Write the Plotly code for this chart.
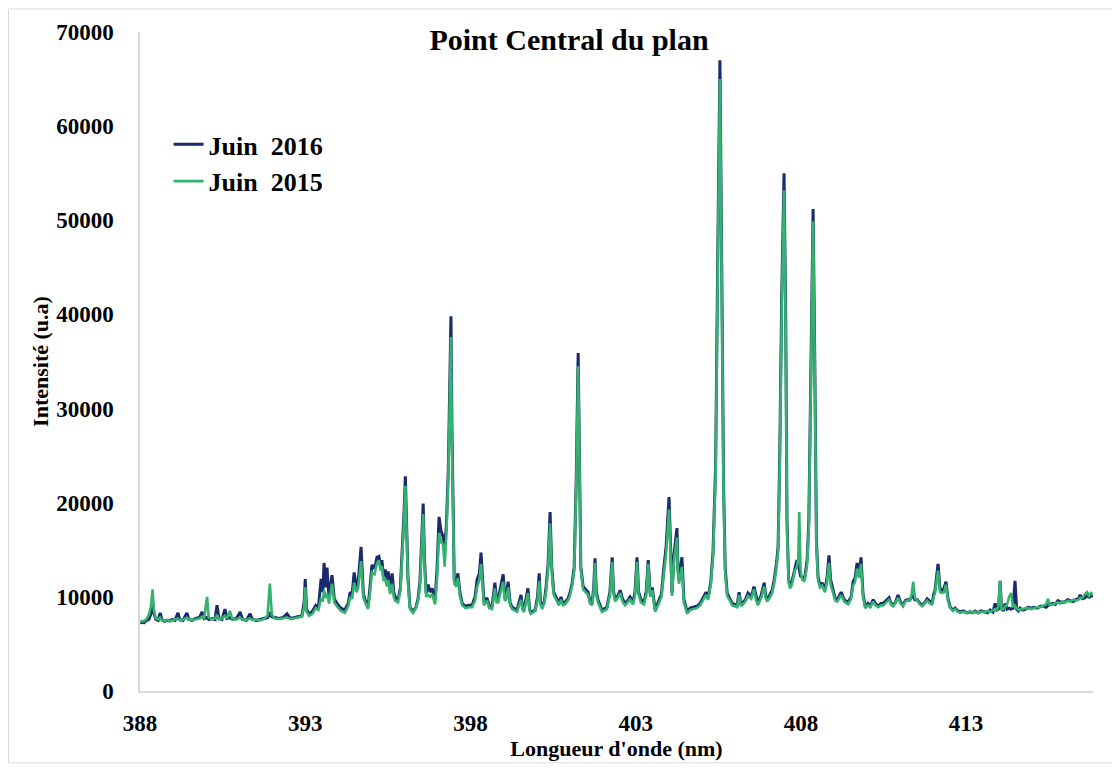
import plotly.graph_objects as go

# ---- Region A : 388 - 393 nm ----
wl_a = [388.00, 388.06, 388.12, 388.20, 388.27, 388.33, 388.38, 388.42, 388.48, 388.55,
        388.61, 388.66, 388.74, 388.82, 388.90, 388.98, 389.06, 389.15, 389.20, 389.30,
        389.42, 389.48, 389.58, 389.68, 389.80, 389.88, 389.94, 390.03, 390.08, 390.18,
        390.27, 390.33, 390.39, 390.48, 390.57, 390.63, 390.72, 390.80, 390.92, 391.03,
        391.10, 391.22, 391.33, 391.40, 391.52, 391.63, 391.75, 391.86, 391.93, 391.99,
        392.08, 392.20, 392.33, 392.45, 392.55, 392.66, 392.78, 392.90, 392.97, 393.00,
        393.04, 393.12]
i16_a = [7200, 7350, 7250, 7500, 7600, 8200, 9400, 8300, 7600, 7500,
         8300, 7600, 7400, 7500, 7450, 7600, 7500, 8300, 7600, 7500,
         8300, 7600, 7500, 7700, 7800, 8400, 7700, 7800, 7600, 7700,
         7600, 9100, 7700, 7600, 8700, 7700, 7800, 7600, 7700, 8400,
         7600, 7500, 8200, 7600, 7500, 7600, 7700, 7800, 8200, 7900,
         7800, 7700, 7800, 8200, 7700, 7800, 7900, 8000, 9500, 11900,
         8700, 8100]
i15_a = [7300, 7450, 7400, 7650, 8100, 9000, 10800, 8600, 7700, 7600,
         7800, 7500, 7450, 7550, 7400, 7500, 7600, 7700, 7500, 7550,
         7800, 7600, 7550, 7600, 7700, 7900, 7700, 10000, 7800, 7600,
         7700, 8100, 7600, 7700, 8000, 7700, 8500, 7600, 7600, 7800,
         7600, 7550, 7700, 7550, 7600, 7500, 7650, 8000, 11400, 8100,
         7700, 7650, 7700, 7800, 7650, 7700, 7800, 7900, 9000, 11000,
         8400, 8000]

# ---- Region B : 393 - 398 nm ----
wl_b = [393.22, 393.32, 393.40, 393.48, 393.53, 393.57, 393.62, 393.66, 393.72, 393.81,
        393.88, 393.96, 394.08, 394.20, 394.30, 394.36, 394.42, 394.48, 394.55, 394.60,
        394.69, 394.76, 394.81, 394.90, 394.96, 395.02, 395.10, 395.17, 395.23, 395.28,
        395.32, 395.37, 395.42, 395.47, 395.51, 395.57, 395.63, 395.68, 395.72, 395.81,
        395.88, 395.93, 395.99, 396.03, 396.07, 396.11, 396.17, 396.26, 396.35, 396.41,
        396.47, 396.52, 396.57, 396.61, 396.66, 396.72, 396.78, 396.84, 396.93, 396.99,
        397.05, 397.11, 397.17, 397.22, 397.27, 397.33, 397.37, 397.41, 397.44, 397.47,
        397.51, 397.57, 397.62, 397.68, 397.75, 397.85, 397.95, 398.05, 398.14]
i16_b = [8500, 9100, 8900, 11900, 10500, 13600, 11000, 13100, 9800, 12300,
         9800, 9300, 8800, 8600, 9300, 10500, 10300, 12600, 11000, 11500,
         15300, 10300, 9700, 8900, 11000, 13400, 13000, 14200, 14300, 13200,
         13900, 12200, 12900, 11600, 12700, 10700, 12500, 10500, 10000, 9700,
         11000, 14300, 19000, 22800, 17000, 12000, 8900, 8400, 8900, 9700,
         11500, 15500, 19900, 14000, 10400, 11300, 10500, 10900, 9700, 13000,
         18500, 17000, 16400, 15500, 17400, 23500, 30000, 39800, 28000, 18000,
         11800, 11600, 12500, 10500, 9300, 9000, 9100, 9100, 10000]
i15_b = [8200, 8800, 8600, 9900, 9500, 10700, 9900, 10400, 9300, 11400,
         9400, 9000, 8500, 8300, 9000, 10000, 9800, 11500, 10500, 10900,
         13800, 9900, 9400, 8700, 10400, 12600, 12400, 13600, 13900, 12800,
         13300, 11700, 12000, 11100, 11800, 10300, 11400, 10000, 9600, 9400,
         10600, 13800, 18200, 21800, 16200, 11500, 8700, 8300, 8800, 9500,
         11000, 14800, 18800, 13300, 10000, 10200, 10000, 10300, 9200, 12000,
         16800, 15800, 15600, 13200, 16500, 22500, 28500, 37600, 26500, 17000,
         11400, 11100, 12000, 10100, 9100, 8800, 8900, 8900, 9600]

# ---- Region C : 398 - 405 nm ----
wl_c = [398.20, 398.27, 398.32, 398.37, 398.41, 398.50, 398.57, 398.65, 398.74, 398.79,
        398.84, 398.90, 398.99, 399.04, 399.08, 399.14, 399.20, 399.26, 399.35, 399.41,
        399.53, 399.58, 399.62, 399.74, 399.79, 399.83, 399.96, 400.03, 400.08, 400.12,
        400.17, 400.24, 400.29, 400.35, 400.41, 400.46, 400.52, 400.62, 400.68, 400.74,
        400.80, 400.86, 400.95, 401.01, 401.08, 401.14, 401.20, 401.26, 401.30, 401.34,
        401.41, 401.48, 401.56, 401.62, 401.68, 401.73, 401.77, 401.81, 401.86, 401.98,
        402.06, 402.13, 402.22, 402.29, 402.33, 402.38, 402.46, 402.53, 402.60, 402.68,
        402.76, 402.83, 402.88, 402.92, 402.98, 403.04, 403.09, 403.16, 403.25, 403.32,
        403.38, 403.44, 403.50, 403.59, 403.70, 403.78, 403.85, 403.92, 404.01, 404.06,
        404.10, 404.16, 404.25, 404.28, 404.31, 404.40, 404.46, 404.56, 404.65, 404.74,
        404.85, 404.95]
i16_c = [11800, 12500, 14700, 11500, 9400, 9900, 9000, 8900, 11500, 9800,
         9700, 10800, 12400, 10000, 10000, 11600, 9400, 8900, 8700, 8600,
         10200, 8800, 8600, 10900, 8700, 8300, 8600, 10000, 12500, 9500,
         8900, 9600, 11100, 13500, 19000, 13200, 10500, 9700, 9300, 10000,
         9300, 9400, 9800, 10400, 11500, 13200, 22400, 35900, 22000, 13200,
         11100, 10800, 10500, 9500, 9300, 11000, 14100, 10500, 9700, 8600,
         8800, 8900, 10500, 14200, 10600, 9700, 10100, 10700, 9800, 9300,
         9600, 10000, 9700, 9400, 10500, 14200, 10500, 9700, 9400, 10600,
         13900, 10300, 11000, 8600, 9600, 10300, 13000, 15300, 20600, 14500,
         10400, 14500, 17300, 13000, 11800, 14200, 9700, 8400, 8800, 8900,
         9000, 9300]
i15_c = [11000, 11800, 13500, 10800, 9100, 9600, 8800, 8700, 10900, 9400,
         9400, 10300, 11600, 9600, 9700, 11000, 9100, 8700, 8500, 8400,
         9700, 8600, 8400, 10400, 8500, 8200, 8500, 9600, 11700, 9200,
         8700, 9400, 10600, 13000, 17800, 12800, 10200, 9400, 9100, 9700,
         9100, 9200, 9600, 10100, 11200, 12800, 21500, 34500, 21000, 12800,
         10800, 10500, 10200, 9300, 9100, 10600, 13600, 10200, 9400, 8400,
         8600, 8700, 10200, 13700, 10300, 9500, 9900, 10400, 9500, 9100,
         9400, 9800, 9400, 9200, 10100, 13700, 10200, 9400, 9200, 10200,
         13500, 10000, 10700, 8400, 9300, 10000, 12300, 14500, 19300, 13800,
         10100, 13900, 16300, 12500, 11400, 13200, 9400, 8200, 8600, 8700,
         8800, 9100]

# ---- Region D : 405 - 417 nm ----
wl_d = [405.05, 405.13, 405.19, 405.27, 405.34, 405.42, 405.48, 405.55, 405.60, 405.66,
        405.71, 405.77, 405.85, 405.92, 406.00, 406.07, 406.13, 406.18, 406.22, 406.32,
        406.40, 406.50, 406.58, 406.64, 406.70, 406.80, 406.89, 406.93, 406.98, 407.06,
        407.13, 407.19, 407.26, 407.31, 407.36, 407.42, 407.49, 407.54, 407.58, 407.63,
        407.67, 407.72, 407.76, 407.82, 407.88, 407.92, 407.95, 407.99, 408.04, 408.10,
        408.13, 408.19, 408.24, 408.30, 408.37, 408.42, 408.47, 408.52, 408.58, 408.64,
        408.69, 408.73, 408.79, 408.85, 408.90, 408.97, 409.04, 409.10, 409.16, 409.22,
        409.31, 409.43, 409.52, 409.58, 409.64, 409.70, 409.76, 409.82, 409.88, 409.95,
        410.03, 410.10, 410.19, 410.26, 410.34, 410.42, 410.49, 410.58, 410.67, 410.73,
        410.79, 410.87, 410.94, 411.02, 411.09, 411.16, 411.21, 411.30, 411.35, 411.40,
        411.45, 411.52, 411.60, 411.67, 411.75, 411.82, 411.90, 411.97, 412.02, 412.06,
        412.15, 412.21, 412.27, 412.33, 412.39, 412.45, 412.52, 412.60, 412.67, 412.75,
        412.82, 412.92, 413.03, 413.12, 413.20, 413.27, 413.36, 413.45, 413.57, 413.65,
        413.73, 413.81, 413.88, 413.93, 413.98, 414.03, 414.07, 414.13, 414.18, 414.24,
        414.30, 414.36, 414.42, 414.48, 414.53, 414.58, 414.63, 414.72, 414.80, 414.88,
        414.97, 415.05, 415.15, 415.25, 415.35, 415.42, 415.48, 415.53, 415.62, 415.70,
        415.78, 415.84, 415.92, 416.00, 416.08, 416.15, 416.24, 416.32, 416.40, 416.45,
        416.52, 416.60, 416.66, 416.72, 416.78, 416.84]
i16_d = [9900, 10500, 9900, 11500, 14700, 24000, 45000, 67000, 47000, 22000,
         13000, 10400, 9800, 9300, 9200, 9100, 10500, 9300, 9300, 9700,
         10400, 10000, 11100, 10000, 9300, 10200, 11500, 10200, 9700, 10200,
         10700, 11800, 13500, 15300, 25000, 42000, 55000, 40000, 18000, 11800,
         11200, 11500, 12100, 13000, 13900, 13500, 13000, 12200, 12100, 12000,
         12300, 14000, 18000, 34000, 51200, 35000, 16000, 12100, 11200, 11500,
         11000, 10800, 12000, 14400, 11800, 10700, 9800, 9700, 10200, 10500,
         9700, 9400, 10000, 11600, 12000, 13600, 12500, 14200, 10300, 8900,
         9300, 9000, 9700, 9300, 9000, 9300, 9300, 9600, 9900, 9300,
         9100, 9500, 10200, 9400, 9100, 9600, 9700, 9700, 10000, 10100,
         9700, 9700, 9300, 9100, 9400, 9800, 9500, 9300, 10300, 10700,
         13500, 10900, 10700, 10900, 11600, 9800, 8900, 8600, 8800, 8500,
         8400, 8500, 8300, 8400, 8300, 8500, 8300, 8500, 8400, 8300,
         8600, 8400, 9300, 8600, 8700, 11700, 8800, 8500, 9300, 8700,
         8800, 8700, 8800, 11700, 8700, 8500, 8800, 8600, 8700, 8900,
         8800, 8900, 8800, 9000, 9000, 8900, 9100, 9200, 9300, 9200,
         9600, 9500, 9400, 9500, 9700, 9600, 9500, 9700, 9800, 10200,
         9800, 9900, 10400, 9900, 10200, 10000]
i15_d = [9700, 10200, 9700, 11200, 14200, 23000, 43500, 65000, 45500, 21000,
         12500, 10100, 9600, 9100, 9000, 8900, 10200, 9100, 9100, 9500,
         10100, 9800, 10800, 9700, 9100, 9900, 11100, 9900, 9500, 9900,
         10400, 11400, 13000, 14800, 24000, 40500, 53200, 38500, 17200, 11500,
         10900, 11200, 11800, 12800, 13200, 14000, 19000, 12800, 11800, 11700,
         12000, 13500, 17300, 33000, 49900, 33800, 15400, 11700, 11000, 11200,
         10700, 10500, 11600, 13600, 11300, 10400, 9600, 9500, 9900, 10200,
         9500, 9200, 9800, 11200, 11600, 13000, 12000, 13500, 10000, 8800,
         9100, 8900, 9500, 9100, 8900, 9100, 9100, 9400, 9700, 9200,
         9000, 9400, 9900, 9300, 9000, 9500, 9600, 9600, 10300, 11600,
         9900, 9600, 9200, 9000, 9300, 9600, 9300, 9200, 10000, 10400,
         12800, 10500, 10400, 10500, 11300, 9600, 8800, 8500, 8700, 8400,
         8300, 8400, 8300, 8500, 8300, 8400, 8300, 8400, 8400, 8500,
         8400, 8600, 8700, 8600, 9000, 11700, 8700, 8700, 8900, 9200,
         10000, 10400, 9000, 9100, 8800, 8600, 8700, 8700, 8800, 8800,
         8700, 8800, 8900, 8900, 9100, 9200, 9800, 9100, 9200, 9300,
         9400, 9300, 9500, 9400, 9600, 9500, 9700, 9600, 9700, 9900,
         9900, 10300, 10500, 10100, 10400, 10200]

wavelength = wl_a + wl_b + wl_c + wl_d
juin_2016 = i16_a + i16_b + i16_c + i16_d
juin_2015 = i15_a + i15_b + i15_c + i15_d
assert len(wavelength) == len(juin_2016) == len(juin_2015)

x_ticks = [388, 393, 398, 403, 408, 413]
y_ticks = [0, 10000, 20000, 30000, 40000, 50000, 60000, 70000]

FONT = "Liberation Serif"

fig = go.Figure()
fig.add_trace(go.Scatter(x=wavelength, y=juin_2016, mode="lines",
                         name="Juin\u00a0 2016",
                         line=dict(color="#1a2a6c", width=3)))
fig.add_trace(go.Scatter(x=wavelength, y=juin_2015, mode="lines",
                         name="Juin\u00a0 2015",
                         line=dict(color="#34b270", width=2.6)))

# The page body adds an 8px offset, so the figure is 8px smaller and shifted.
fig.update_layout(
    width=1112, height=760,
    margin=dict(l=132, r=27, t=24, b=77, autoexpand=False),
    paper_bgcolor="white", plot_bgcolor="white",
    font=dict(family=FONT, color="black"),
    title=dict(text="Point Central du plan", x=0.5045, xref="container",
               y=0.958, yref="container", xanchor="center", yanchor="middle",
               font=dict(family=FONT, size=30, weight="bold", color="black")),
    legend=dict(x=0.03, y=0.865, xanchor="left", yanchor="top",
                bgcolor="rgba(0,0,0,0)",
                font=dict(family=FONT, size=26, weight="bold", color="black"),
                tracegroupgap=0),
    showlegend=True,
)

fig.update_xaxes(
    range=[388, 416.84], tickvals=x_ticks, ticktext=[str(v) for v in x_ticks],
    showgrid=False, zeroline=False, showline=True, linecolor="#d9d9d9", linewidth=1.5,
    ticks="outside", ticklen=11, tickcolor="white", automargin=False,
    tickfont=dict(family=FONT, size=23, weight="bold", color="black"),
    title=dict(text="Longueur d'onde (nm)", standoff=3,
               font=dict(family=FONT, size=22, weight="bold", color="black")),
)
fig.update_yaxes(
    range=[0, 70000], tickvals=y_ticks, ticktext=[str(v) for v in y_ticks],
    showgrid=False, zeroline=False, showline=True, linecolor="#d9d9d9", linewidth=1.5,
    ticks="outside", ticklen=20, tickcolor="white", automargin=False,
    tickfont=dict(family=FONT, size=23, weight="bold", color="black"),
    title=dict(text="Intensité (u.a)", standoff=1,
               font=dict(family=FONT, size=22, weight="bold", color="black")),
)

fig.add_shape(type="rect", xref="paper", yref="paper",
              x0=-0.1380, x1=1.021, y0=-0.109, y1=1.0349,
              line=dict(color="#d9d9d9", width=1), fillcolor="rgba(0,0,0,0)",
              layer="below")

fig.write_html("out.html")
